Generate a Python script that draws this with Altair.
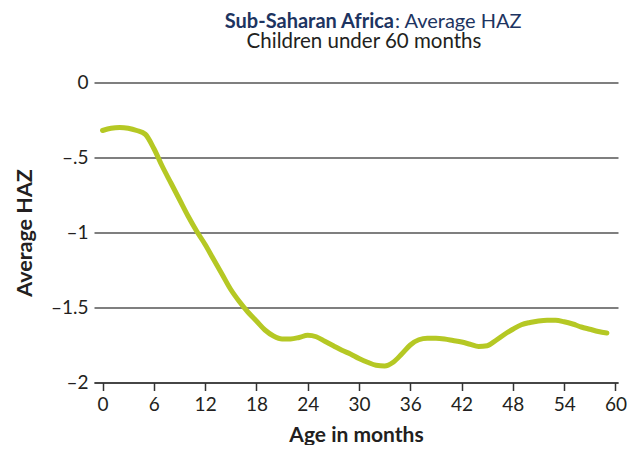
import altair as alt
import pandas as pd

# ---- data ----
months = list(range(60))
haz = [
    -0.32, -0.305, -0.30, -0.305, -0.32, -0.345, -0.44, -0.56, -0.67, -0.78,
    -0.89, -0.99, -1.08, -1.18, -1.28, -1.38, -1.46, -1.53, -1.59, -1.65,
    -1.69, -1.71, -1.71, -1.70, -1.685, -1.695, -1.725, -1.755, -1.785, -1.81,
    -1.84, -1.865, -1.885, -1.89, -1.865, -1.81, -1.75, -1.715, -1.705, -1.705,
    -1.71, -1.72, -1.73, -1.745, -1.76, -1.755, -1.72, -1.68, -1.645, -1.615,
    -1.60, -1.59, -1.585, -1.585, -1.595, -1.61, -1.63, -1.645, -1.66, -1.67,
]
x_ticks = [0, 6, 12, 18, 24, 30, 36, 42, 48, 54, 60]
y_ticks = [0, -0.5, -1, -1.5, -2]
title_bold = ["Sub-Saharan Africa"]
title_rest = [": Average HAZ"]
subtitle = ["Children under 60 months"]
x_title = "Age in months"
y_title = "Average HAZ"

FONT = "Lato"
NAVY = "#1d3461"
TEXT = "#231f20"

df = pd.DataFrame({"month": months, "haz": haz})

line = alt.Chart(df).mark_line(
    color="#b5c824", strokeWidth=5, interpolate="monotone", strokeCap="round"
).encode(
    x=alt.X(
        "month:Q",
        title=x_title,
        scale=alt.Scale(domain=[-1, 60.3], nice=False, zero=False),
        axis=alt.Axis(
            values=x_ticks, grid=False, domainColor="#333333", domainWidth=1.5,
            tickColor="#333333", tickWidth=1.5, tickSize=8, labelPadding=5,
            labelFontSize=19, labelColor=TEXT, labelFont=FONT,
            titleFont=FONT, titleFontSize=21, titleFontWeight="bold",
            titleColor=TEXT, titlePadding=10,
        ),
    ),
    y=alt.Y(
        "haz:Q",
        title=y_title,
        scale=alt.Scale(domain=[-2, 0], nice=False, zero=False),
        axis=alt.Axis(
            values=y_ticks, grid=True, gridColor="#555555", gridWidth=1.3,
            domain=False, ticks=False, labelPadding=6,
            labelExpr="datum.value === 0 ? '0' : '\u2013' + replace(format(-datum.value, ''), '0.', '.')",
            labelFontSize=19, labelColor=TEXT, labelFont=FONT,
            titleFont=FONT, titleFontSize=21.5, titleFontWeight="bold",
            titleColor=TEXT, titlePadding=14,
        ),
    ),
)

t1 = alt.Chart(pd.DataFrame({"t": title_bold})).mark_text(
    align="right", baseline="alphabetic", font=FONT, fontSize=20,
    fontWeight="bold", color=NAVY,
).encode(x=alt.value(300), y=alt.value(-55), text="t:N")

t2 = alt.Chart(pd.DataFrame({"t": title_rest})).mark_text(
    align="left", baseline="alphabetic", font=FONT, fontSize=20,
    fontWeight="normal", color=NAVY,
).encode(x=alt.value(301), y=alt.value(-55), text="t:N")

t3 = alt.Chart(pd.DataFrame({"t": subtitle})).mark_text(
    align="center", baseline="alphabetic", font=FONT, fontSize=20.5,
    color=TEXT,
).encode(x=alt.value(270), y=alt.value(-35), text="t:N")

chart = alt.layer(line, t1, t2, t3).properties(
    width=524,
    height=300,
    autosize="none",
    padding={"left": 86, "top": 74.5, "right": 9, "bottom": 62},
).configure_view(stroke=None)

chart.save("out.html", embed_options={"renderer": "svg", "actions": False})
